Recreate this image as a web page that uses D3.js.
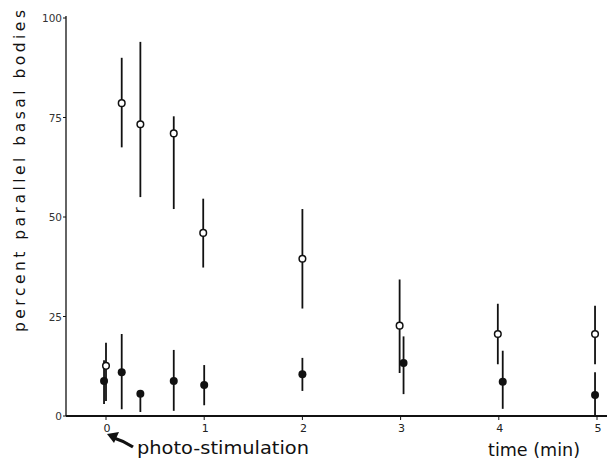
<!DOCTYPE html>
<html><head><meta charset="utf-8">
<script src="https://cdn.jsdelivr.net/npm/d3@7"></script>
<style>body{margin:0;background:#fff}svg{display:block}text{font-family:"DejaVu Sans",sans-serif;fill:#111}</style>
</head><body><svg id="c" width="608" height="459"></svg>
<script>
// data
const yTicks = [0, 25, 50, 75, 100];
const yTickLabels = ["0", "25", "50", "75", "100"];
const xTicks = [0, 1, 2, 3, 4, 5];
const xTickLabels = ["0", "1", "2", "3", "4", "5"];

const openT  = [0, 0.16, 0.35, 0.69, 0.99, 2.0, 2.99, 3.99, 4.98];
const openV  = [12.6, 78.6, 73.3, 71.0, 46.0, 39.5, 22.7, 20.6, 20.6];
const openHi = [18.4, 90.0, 94.0, 75.3, 54.6, 52.0, 34.3, 28.2, 27.7];
const openLo = [3.8, 67.5, 55.0, 52.0, 37.3, 27.0, 10.8, 13.0, 13.0];

const filledT  = [-0.02, 0.16, 0.35, 0.69, 1.0, 2.0, 3.03, 4.04, 4.98];
const filledV  = [8.8, 11.0, 5.6, 8.8, 7.8, 10.5, 13.3, 8.6, 5.3];
const filledHi = [14.0, 20.6, 5.6, 16.6, 12.8, 14.6, 20.0, 16.4, 11.0];
const filledLo = [3.0, 1.7, 1.0, 1.3, 2.7, 6.3, 5.5, 1.8, 0.0];

const svg = d3.select("#c");
const x = d3.scaleLinear().domain([0, 5]).range([106, 597]);
const y = d3.scaleLinear().domain([0, 100]).range([416, 18]);
const ink = "#111";

// axes lines
svg.append("line").attr("x1", 66).attr("x2", 607).attr("y1", y(0)).attr("y2", y(0))
  .attr("stroke", ink).attr("stroke-width", 1.8);
svg.append("line").attr("x1", 66).attr("x2", 66).attr("y1", 16).attr("y2", y(0))
  .attr("stroke", ink).attr("stroke-width", 1.3);

// y ticks
const yg = svg.append("g");
yTicks.forEach((t, i) => {
  yg.append("line").attr("x1", 63).attr("x2", 66).attr("y1", y(t)).attr("y2", y(t))
    .attr("stroke", ink).attr("stroke-width", 1);
  yg.append("text").attr("x", 62).attr("y", y(t) + 4).attr("text-anchor", "end")
    .attr("font-size", 10.5).style("fill", "#333").text(yTickLabels[i]);
});

// x ticks
xTicks.forEach((t, i) => {
  svg.append("line").attr("x1", x(t)).attr("x2", x(t)).attr("y1", y(0)).attr("y2", y(0) + 4)
    .attr("stroke", ink).attr("stroke-width", 1);
  svg.append("text").attr("x", x(t) + 1).attr("y", 432).attr("text-anchor", "middle")
    .attr("font-size", 11).style("fill", "#222").text(xTickLabels[i]);
});

// y label
svg.append("text").attr("transform", "translate(25,332) rotate(-90)")
  .attr("font-size", 15.5).attr("textLength", 322).attr("lengthAdjust", "spacing")
  .text("percent parallel basal bodies");

// x labels
svg.append("text").attr("x", 137).attr("y", 454).attr("font-size", 17.5)
  .attr("textLength", 172).attr("lengthAdjust", "spacingAndGlyphs").text("photo-stimulation");
svg.append("text").attr("x", 488).attr("y", 456).attr("font-size", 17)
  .attr("textLength", 92).attr("lengthAdjust", "spacingAndGlyphs").text("time (min)");

// arrow
svg.append("path").attr("d", "M133,447 Q124,441 114,438")
  .attr("fill", "none").attr("stroke", ink).attr("stroke-width", 3.2);
svg.append("path").attr("d", "M107,434 L119,432 L114,443 Z").attr("fill", ink);

// error bars
const openData = openT.map((t, i) => ({t, v: openV[i], hi: openHi[i], lo: openLo[i]}));
const filledData = filledT.map((t, i) => ({t, v: filledV[i], hi: filledHi[i], lo: filledLo[i]}));

svg.append("g").selectAll("line").data(openData).join("line")
  .attr("x1", d => x(d.t)).attr("x2", d => x(d.t))
  .attr("y1", d => y(d.hi)).attr("y2", d => y(d.lo))
  .attr("stroke", ink).attr("stroke-width", 1.8);
svg.append("g").selectAll("line").data(filledData).join("line")
  .attr("x1", d => x(d.t)).attr("x2", d => x(d.t))
  .attr("y1", d => y(d.hi)).attr("y2", d => y(d.lo))
  .attr("stroke", ink).attr("stroke-width", 1.8);

// markers
svg.append("g").selectAll("circle").data(filledData).join("circle")
  .attr("cx", d => x(d.t)).attr("cy", d => y(d.v)).attr("r", 4)
  .attr("fill", ink);
svg.append("g").selectAll("circle").data(openData).join("circle")
  .attr("cx", d => x(d.t)).attr("cy", d => y(d.v)).attr("r", 3.3)
  .attr("fill", "#fff").attr("stroke", ink).attr("stroke-width", 1.5);
</script></body></html>
